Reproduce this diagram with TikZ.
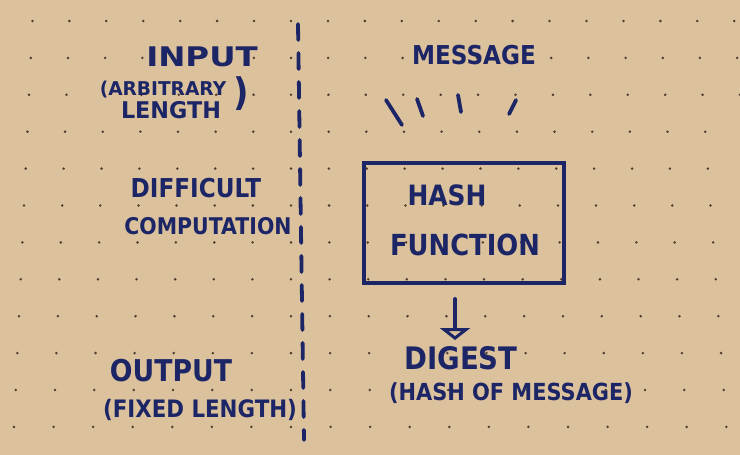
\documentclass[tikz,border=0pt]{standalone}
\usepackage{fontspec}
\setmainfont{DejaVu Sans}
\usetikzlibrary{arrows.meta}
\definecolor{ink}{HTML}{1C2566}
\definecolor{paper}{HTML}{DCC29C}
\definecolor{dotc}{HTML}{4E3F2E}
\tikzset{
  lbl/.style={text=ink, inner sep=0pt, xscale=0.89, font=\bfseries\fontsize{#1}{#1}\selectfont},
  lbl/.default=26,
  pen/.style={draw=ink, line width=3.8pt, line cap=round},
}

\begin{document}
\begin{tikzpicture}[x=1pt,y=-1pt]
	\useasboundingbox (0,0) rectangle (740,455);
	\fill[paper] (0,0) rectangle (740,455);
	% dotted paper
	\begin{scope}
		\clip (0,0) rectangle (740,455);
		\foreach \j in {0,...,12}{
			\pgfmathsetmacro{\yy}{21+36.9*\j}
			\pgfmathsetmacro{\ss}{37+(\yy-31)*0.0065}
			\foreach \k in {-8,...,13}
				\fill[dotc] ({291+\k*\ss},\yy) circle (1.4pt);
		}
	\end{scope}
	% divider
	\draw[pen, dash pattern=on 16pt off 13pt] (298,24) -- (304,440);
	% left column
	\node[lbl=27, xscale=1.35] (input) at (202,57) {INPUT};
	\node[lbl=19, xscale=1.1] (arb) at (163,90) {(ARBITRARY};
	\node[lbl=23, xscale=1.09] (length) at (171,110) {LENGTH};
	\node[lbl=38] (arbclose) at (241,94) {)};
	\node[lbl=26] (difficult) at (196,188) {DIFFICULT};
	\node[lbl=23] (computation) at (208,226) {COMPUTATION};
	\node[lbl=30] (output) at (171,371) {OUTPUT};
	\node[lbl=24] (fixed) at (200,410) {(FIXED LENGTH)};
	% right column
	\node[lbl=26] (message) at (474,55) {MESSAGE};
	\draw[pen] (386,100) -- (402,125);
	\draw[pen] (417,99) -- (423,116);
	\draw[pen] (458,95) -- (461,112);
	\draw[pen] (516,100) -- (509,114);
	\node[pen, minimum width=200pt, minimum height=120pt, inner sep=0pt] (box) at (464,223) {};
	\node[lbl=28] (hash) at (447,195) {HASH};
	\node[lbl=29] (function) at (465,245) {FUNCTION};
	\node[lbl=31] (digest) at (461,358) {DIGEST};
	\node[lbl=23.5] (hashof) at (511,393) {(HASH OF MESSAGE)};
	\coordinate (tip) at (455,340);
	\draw[pen, shorten <=14pt, -{Triangle[open,width=30pt,length=12pt,line width=3.2pt]}] (box.south -| tip) -- (tip);
\end{tikzpicture}
\end{document}
